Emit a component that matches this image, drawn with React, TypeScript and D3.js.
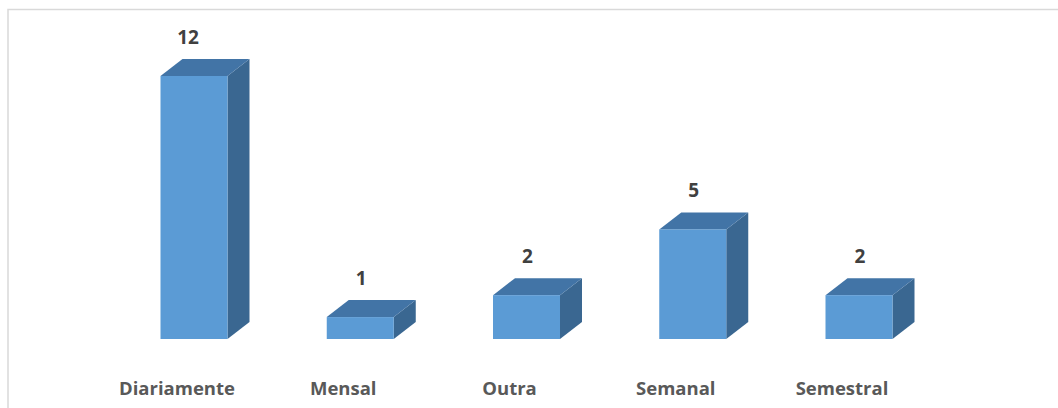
import React from "react";
import * as d3 from "d3";

const categories = ["Diariamente", "Mensal", "Outra", "Semanal", "Semestral"];
const values = [12, 1, 2, 5, 2];

export default function App() {
  const W = 1058, H = 408;
  const x = d3.scalePoint<string>().domain(categories).range([194, 859]);
  const y = d3.scaleLinear().domain([0, 12]).range([339, 76]);
  const bw = 67, dx = 22, dy = 17;
  const font = "'Open Sans', sans-serif";
  return (
    <svg width={W} height={H} style={{ position: "absolute", left: 0, top: 0, background: "#fff" }}>
      <rect x={8} y={9.5} width={1070} height={420} fill="none" stroke="#d9d9d9" strokeWidth={1.5} />
      {categories.map((c, i) => {
        const cx = x(c)!;
        const x0 = cx - bw / 2, x1 = cx + bw / 2;
        const yt = y(values[i]), yb = y(0);
        const top = `M${x0},${yt} L${x0 + dx},${yt - dy} L${x1 + dx},${yt - dy} L${x1},${yt} Z`;
        const side = `M${x1},${yt} L${x1 + dx},${yt - dy} L${x1 + dx},${yb - dy} L${x1},${yb} Z`;
        return (
          <g key={c}>
            <path d={side} fill="#3a6791" />
            <path d={top} fill="#4274a6" />
            <rect x={x0} y={yt} width={bw} height={yb - yt} fill="#5b9bd5" />
            <text x={cx - (values[i] >= 10 ? 6 : -1)} y={yt - dy - 15} textAnchor="middle" fontFamily={font} fontWeight="bold" fontSize={19} fill="#404040">{values[i]}</text>
            <text x={cx - 17} y={395} textAnchor="middle" fontFamily={font} fontWeight="bold" fontSize={18.5} fill="#595959">{c}</text>
          </g>
        );
      })}
    </svg>
  );
}
